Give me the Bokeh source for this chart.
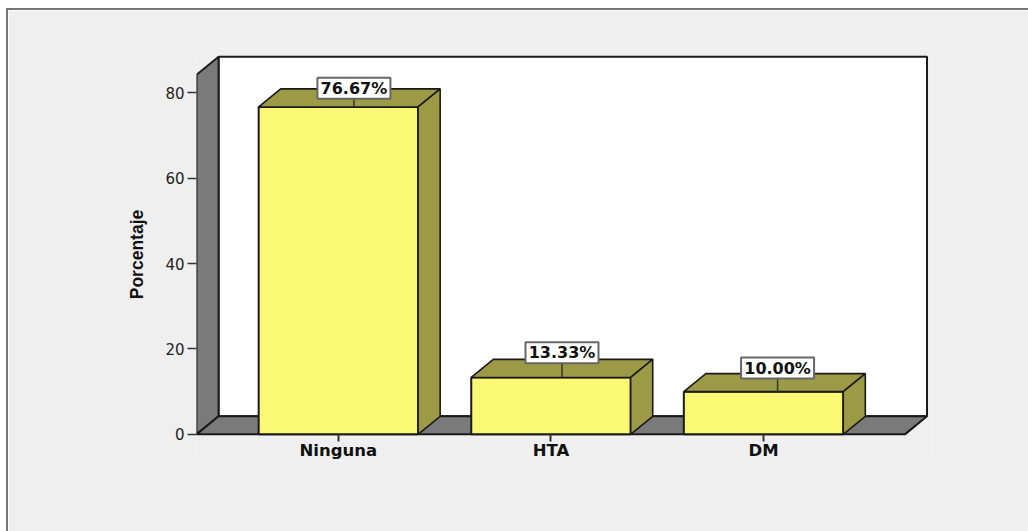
from bokeh.plotting import figure
from bokeh.models import FixedTicker, Range1d
from bokeh.core.properties import value
from bokeh.embed import file_html
from bokeh.resources import INLINE

categories = ["Ninguna", "HTA", "DM"]
percentages = [76.67, 13.33, 10.00]
y_ticks = [0, 20, 40, 60, 80]
axis_title = "Porcentaje"

BG = "#efefef"
EDGE = "#1a1a1a"
FRONT = "#fbf873"
SIDE = "#9c9a45"
WALL = "#7a7a7a"

PX_X = 212.0           # pixels per category
PX_Y = 4.25            # pixels per percentage point
DX = 22 / PX_X         # depth in x
DY = 18 / PX_Y         # depth in y
BAR_W = 159 / PX_X
AXIS_TOP = 84.2
X0 = -141.5 / PX_X
X1 = X0 + 706.5 / PX_X

W, H = 1020, 521
# The frame reaches 26px below the zero line so the y title centres where the reference has it
FL, FR, FT, ZERO, FB = 188, 921, 38, 422, 448

p = figure(width=W, height=H, output_backend="svg", toolbar_location=None,
           x_range=Range1d(X0, X0 + (FR - FL) / PX_X),
           y_range=Range1d(-(FB - ZERO) / PX_Y, (ZERO - FT) / PX_Y),
           min_border_left=FL, min_border_right=W - FR,
           min_border_top=FT, min_border_bottom=H - FB,
           background_fill_color=BG, border_fill_color=BG,
           margin=(8, 0, 0, 6),
           styles={"border-left": "2px solid #777777", "border-top": "2px solid #777777",
                   "box-sizing": "content-box"})
p.outline_line_color = None
p.grid.visible = False

# back wall, side wall, floor
p.patch([X0 + DX, X1 + DX, X1 + DX, X0 + DX],
        [DY, DY, AXIS_TOP + DY, AXIS_TOP + DY],
        fill_color="white", line_color=EDGE, line_width=2)
p.patch([X0, X0 + DX, X0 + DX, X0], [0, DY, AXIS_TOP + DY, AXIS_TOP],
        fill_color=WALL, line_color=EDGE, line_width=2)
p.patch([X0, X1, X1 + DX, X0 + DX], [0, 0, DY, DY],
        fill_color=WALL, line_color=EDGE, line_width=2)

# bars
xs = list(range(len(categories)))
lefts = [x - BAR_W / 2 for x in xs]
rights = [x + BAR_W / 2 for x in xs]
p.quad(left=lefts, right=rights, bottom=0, top=percentages,
       fill_color=FRONT, line_color=EDGE, line_width=2)
p.patches([[l, r, r + DX, l + DX] for l, r in zip(lefts, rights)],
          [[v, v, v + DY, v + DY] for v in percentages],
          fill_color=SIDE, line_color=EDGE, line_width=1.6)
p.patches([[r, r + DX, r + DX, r] for r in rights],
          [[0, DY, v + DY, v] for v in percentages],
          fill_color=SIDE, line_color=EDGE, line_width=1.6)

# value labels with leaders
label_dx = [15.5, 11, 14]
label_dy = [18.5, 24.5, 23.5]
lx = [x + d / PX_X for x, d in zip(xs, label_dx)]
ly = [v + d / PX_Y for v, d in zip(percentages, label_dy)]
p.segment(lx, percentages, lx, ly, line_color="#333333", line_width=1.5)
p.rect(lx, ly, width=73, height=21, width_units="screen", height_units="screen",
       fill_color="white", line_color="#666666", line_width=2)
p.text(lx, ly, text=[f"{v:.2f}%" for v in percentages], text_align="center",
       text_baseline="middle", text_font=value("DejaVu Sans"), text_font_style="bold",
       text_font_size="16px", text_color="#111111")

# axes
p.yaxis.ticker = FixedTicker(ticks=y_ticks)
p.yaxis.axis_line_color = None
p.yaxis.major_tick_line_color = "#333333"
p.yaxis.major_tick_line_width = 1.5
p.yaxis.major_tick_out = 9
p.yaxis.major_tick_in = 0
p.yaxis.minor_tick_line_color = None
p.yaxis.major_label_text_font = "DejaVu Sans"
p.yaxis.major_label_text_font_size = "15px"
p.yaxis.major_label_text_color = "#222222"
p.yaxis.major_label_standoff = 3
p.yaxis.axis_label = axis_title
p.yaxis.axis_label_text_font = "Liberation Sans"
p.yaxis.axis_label_text_font_style = "bold"
p.yaxis.axis_label_text_font_size = "17.5px"
p.yaxis.axis_label_text_color = "#111111"
p.yaxis.axis_label_standoff = 15

p.xaxis.fixed_location = 0
p.xaxis.ticker = FixedTicker(ticks=xs)
p.xaxis.major_label_overrides = dict(zip(xs, categories))
p.xaxis.axis_line_color = None
p.xaxis.major_tick_line_color = "#333333"
p.xaxis.major_tick_line_width = 2
p.xaxis.major_tick_out = 7
p.xaxis.major_tick_in = 0
p.xaxis.minor_tick_line_color = None
p.xaxis.major_label_text_font = "DejaVu Sans"
p.xaxis.major_label_text_font_style = "bold"
p.xaxis.major_label_text_font_size = "16.5px"
p.xaxis.major_label_text_color = "#111111"
p.xaxis.major_label_standoff = 0

open("out.html", "w").write(file_html(p, INLINE))
